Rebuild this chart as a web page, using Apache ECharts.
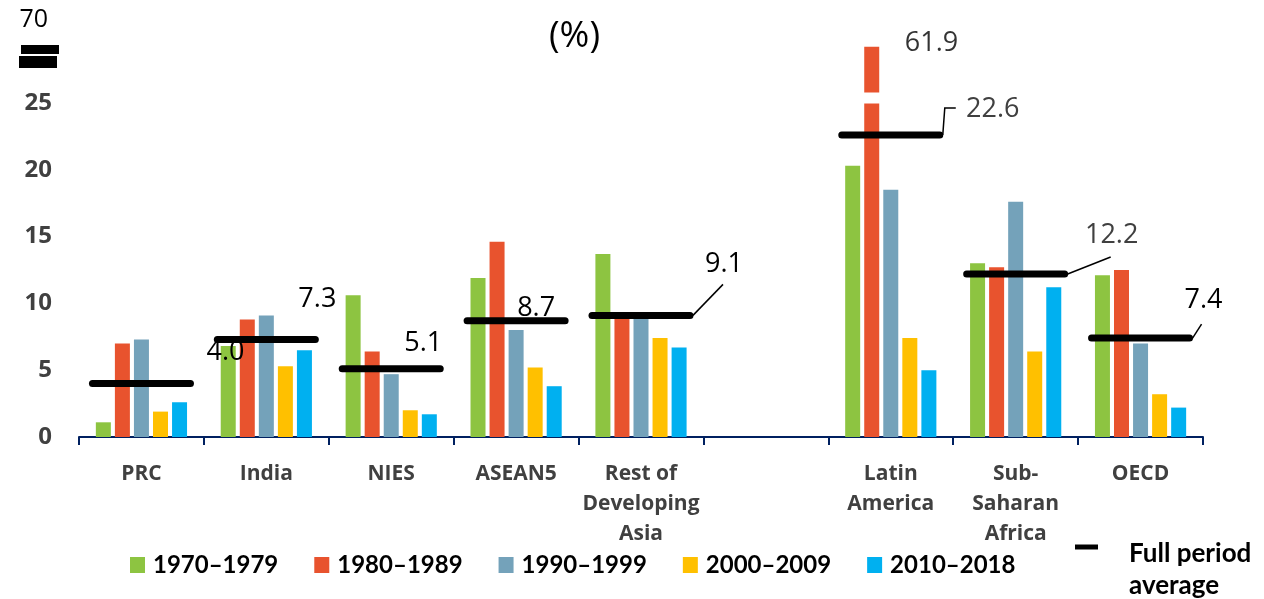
<!DOCTYPE html>
<html>
<head>
<meta charset="utf-8">
<script src="https://cdn.jsdelivr.net/npm/echarts@6.0.0/dist/echarts.min.js"></script>
<style>
  html, body { margin: 0; padding: 0; background: #fff; }
  #main { width: 1264px; height: 599px; }
</style>
</head>
<body>
<div id="main"></div>
<script>
// categories and series values (%)
var categories = ['PRC', 'India', 'NIES', 'ASEAN5', 'Rest of\nDeveloping\nAsia', '', 'Latin\nAmerica', 'Sub-\nSaharan\nAfrica', 'OECD'];
var periods = ['1970–1979', '1980–1989', '1990–1999', '2000–2009', '2010–2018'];
var s1970 = [1.1, 6.8, 10.6, 11.9, 13.7, '-', 20.3, 13.0, 12.1];
var s1980 = [7.0, 8.8, 6.4, 14.6, 9.0, '-', 61.9, 12.7, 12.5];
var s1990 = [7.3, 9.1, 4.7, 8.0, 9.0, '-', 18.5, 17.6, 7.0];
var s2000 = [1.9, 5.3, 2.0, 5.2, 7.4, '-', 7.4, 6.4, 3.2];
var s2010 = [2.6, 6.5, 1.7, 3.8, 6.7, '-', 5.0, 11.2, 2.2];
var fullAvg = [4.0, 7.3, 5.1, 8.7, 9.1, '-', 22.6, 12.2, 7.4];

// y axis: ticks every 5, broken above 25 up to 70
var yMin = 0, yMax = 70, yStep = 5;
var yBreaks = [{ start: 25, end: 58.5, gap: 0.8 }, { start: 62, end: 70, gap: 1.9 }];

// styling for the average marks and their labels (px, relative to the mark)
var periodColors = ['#8DC441', '#E8532E', '#74A2BA', '#FFC000', '#00B0F0'];
var avgHalfWidth = 49;
var avgLabelOffsets = [[84, -31], [51, -40], [32, -26], [20, -12], [83, -51], null, [102, -26], [96, -39], [63, -38]];
var avgLeaders = [null, null, null, null, [[0, 0], [30, -31]], null, [[0, 0], [2, -27], [13, -27]], [[0, 0], [43, -17]], [[0, 0], [9, -14]]];
var avgLabelColors = ['#000', '#000', '#000', '#000', '#000', '#000', '#404040', '#404040', '#000'];

var chart = echarts.init(document.getElementById('main'));

var series = [s1970, s1980, s1990, s2000, s2010].map(function (vals, k) {
  return {
    name: periods[k],
    type: 'bar',
    barWidth: 15,
    barGap: '27%',
    itemStyle: { color: periodColors[k] },
    data: vals
  };
});

// full period average: thick black dash per category + value label
series.push({
  name: 'Full period average',
  type: 'custom',
  z: 120,
  itemStyle: { color: '#000' },
  encode: { x: 0, y: 1 },
  data: fullAvg.map(function (v, i) { return [i, v]; }),
  renderItem: function (params, api) {
    var i = params.dataIndex;
    var v = api.value(1);
    if (isNaN(v)) return null;
    var c = api.coord([api.value(0), v]);
    var xr = c[0] + avgHalfWidth + 3;
    var children = [{
      type: 'line',
      shape: { x1: c[0] - avgHalfWidth, y1: c[1], x2: c[0] + avgHalfWidth, y2: c[1] },
      style: { stroke: '#000', lineWidth: 7, lineCap: 'round' }
    }];
    var lead = avgLeaders[i];
    if (lead) {
      children.push({
        type: 'polyline',
        shape: { points: lead.map(function (p) { return [xr + p[0], c[1] + p[1]]; }) },
        style: { stroke: '#000', lineWidth: 1.5, fill: null }
      });
    }
    var o = avgLabelOffsets[i];
    children.push({
      type: 'text',
      x: c[0] + o[0],
      y: c[1] + o[1],
      style: {
        text: v.toFixed(1), fill: avgLabelColors[i],
        font: '27px "Open Sans"', align: 'center', verticalAlign: 'middle'
      }
    });
    return { type: 'group', children: children };
  }
});

// value label of the bar that runs off the axis
series.push({
  name: 'offscale',
  type: 'scatter',
  z: 150,
  silent: true,
  symbolSize: 0,
  data: [[6, s1980[6]]],
  label: {
    show: true, position: [14, -3], align: 'left', verticalAlign: 'middle',
    fontFamily: 'Open Sans', fontSize: 27, color: '#000',
    formatter: function (p) { return p.value[1].toFixed(1); }
  }
});

var option = {
  animation: false,
  title: {
    text: '(%)',
    left: 544,
    top: 14,
    z: 200,
    textStyle: { fontFamily: 'Open Sans', fontSize: 36, fontWeight: 'normal', color: '#000' }
  },
  grid: { left: 79, right: 61, top: 20, bottom: 162, outerBoundsMode: 'none' },
  legend: [{
    data: periods,
    left: 125,
    top: 548,
    icon: 'rect',
    itemWidth: 15,
    itemHeight: 16,
    itemGap: 36,
    textStyle: { fontFamily: 'Lato', fontWeight: 'bold', fontSize: 24, color: '#000', padding: [0, 0, 0, 3] }
  }, {
    data: [{ name: 'Full period average', icon: 'rect', itemStyle: { color: '#000' } }],
    left: 1070,
    top: 505,
    itemWidth: 23,
    itemHeight: 5,
    formatter: function () { return '{s| }\n{a|Full period}\n{a|average}'; },
    textStyle: {
      padding: [0, 0, 0, 26],
      rich: {
        s: { fontSize: 10, lineHeight: 46 },
        a: { fontFamily: 'Lato', fontWeight: 'bold', fontSize: 26, color: '#000', lineHeight: 32 }
      }
    }
  }],
  xAxis: {
    type: 'category',
    data: categories,
    axisLine: { lineStyle: { color: '#002060', width: 2 } },
    axisTick: { show: true, length: 8, lineStyle: { color: '#002060', width: 2 } },
    axisLabel: {
      interval: 0, margin: 22, color: '#404040', fontFamily: 'Open Sans',
      fontWeight: 'bold', fontSize: 21, lineHeight: 30
    }
  },
  yAxis: {
    type: 'value',
    min: yMin,
    max: yMax,
    interval: yStep,
    breaks: yBreaks,
    breakArea: {
      show: true,
      expandOnClick: false,
      zigzagAmplitude: 0,
      itemStyle: { color: '#fff', borderColor: '#fff', borderWidth: 0, opacity: 1 }
    },
    breakLabelLayout: { moveOverlap: false },
    axisLine: { show: false },
    axisTick: { show: false },
    splitLine: { show: false },
    axisLabel: {
      margin: 27, color: '#404040', fontFamily: 'Open Sans', fontWeight: 'bold', fontSize: 24,
      hideOverlap: false, showMinLabel: true, showMaxLabel: true,
      formatter: function (v) {
        if (v % yStep !== 0) return '';
        if (v === yMax) return '{top|' + v + '}';
        return v + '';
      },
      rich: { top: { fontFamily: 'Open Sans', fontWeight: 'normal', fontSize: 25, color: '#000', padding: [0, 4, 0, 0] } }
    }
  },
  graphic: [
    { type: 'rect', shape: { x: 21, y: 45, width: 38, height: 9 }, style: { fill: '#000' } },
    { type: 'rect', shape: { x: 19, y: 56, width: 38, height: 12 }, style: { fill: '#000' } }
  ],
  series: series
};

chart.setOption(option);
</script>
</body>
</html>
